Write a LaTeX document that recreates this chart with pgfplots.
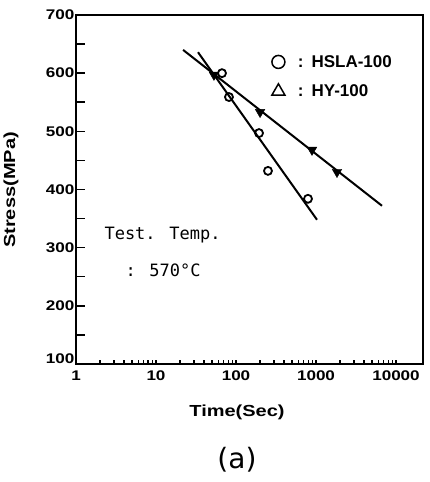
\documentclass[border=0pt]{standalone}
\usepackage{fontspec}
\setmainfont{Liberation Sans}
\newfontfamily\tickfont[FakeStretch=1.22]{Liberation Sans}
\newfontfamily\labfont[FakeStretch=1.25]{Liberation Sans}
\newfontfamily\monofont{DejaVu Sans Mono}
\newfontfamily\capfont{DejaVu Sans}
\usepackage{pgfplots}
\pgfplotsset{compat=1.18}
\begin{document}
\begin{tikzpicture}[x=1pt,y=1pt]
\useasboundingbox (0,0) rectangle (429,482);
\begin{axis}[
  at={(76pt,118pt)}, anchor=south west,
  scale only axis, width=347pt, height=349pt,
  xmode=log, xmin=1, xmax=21750, ymin=100, ymax=700,
  axis line style={line width=2.2pt},
  tick align=inside, tick pos=left,
  xtick={1,10,100,1000,10000},
  xticklabels={1,10,100,1000,10000},
  minor xtick={2,3,4,5,6,7,8,9,20,30,40,50,60,70,80,90,200,300,400,500,600,700,800,900,2000,3000,4000,5000,6000,7000,8000,9000},
  ytick={200,300,...,700},
  minor ytick={150,250,...,650},
  extra y ticks={100},
  extra y tick style={yticklabel style={yshift=5pt}},
  major tick length=9pt, minor tick length=9pt,
  x tick style={/pgfplots/major tick length=4pt,/pgfplots/minor tick length=4pt},
  every tick/.style={black, line width=1.5pt},
  every minor tick/.style={black, line width=1.5pt},
  /pgf/number format/assume math mode=true,
  ticklabel style={font=\tickfont\bfseries\fontsize{14}{14}\selectfont},
  yticklabel style={xshift=2pt},
  xticklabel style={yshift=-3pt},
  legend style={at={(rel axis cs:0.564,0.891)}, anchor=north west, draw=none, fill=none,
    font=\bfseries\fontsize{17}{17}\selectfont, row sep=12pt, inner sep=0pt},
  legend cell align=left,
]
\addlegendimage{only marks, mark=o, mark size=6.5pt, line width=1.5pt, black}
\addlegendentry{\hspace{11pt}:\hspace{8pt}HSLA-100}
\addlegendimage{only marks, mark=triangle, mark size=7.5pt, line width=1.5pt, black}
\addlegendentry{\hspace{11pt}:\hspace{8pt}HY-100}
% HSLA-100 data
\addplot[forget plot, only marks, mark=o, mark size=4pt, line width=1.8pt, black]
  coordinates {(66.8,600) (81.7,559) (194,497) (251,432) (794,384)};
% HSLA-100 fitted line
\addplot[forget plot, black, line width=2pt]
  coordinates {(33.5,636) (1029,348)};
% HY-100 data
\addplot[forget plot, only marks, mark=triangle*, mark size=5.5pt, mark options={rotate=180}, black]
  coordinates {(53,597) (200,533) (891,468) (1830,430)};
% HY-100 fitted line
\addplot[forget plot, black, line width=2pt]
  coordinates {(21.8,640) (6683,372)};
\end{axis}
\node[anchor=base west, font=\monofont\fontsize{17}{17}\selectfont] at (101,242) {Test. Temp.};
\node[anchor=base west, font=\monofont\fontsize{17}{17}\selectfont] at (122,205) {: 570°C};
\node[rotate=90, font=\labfont\bfseries\fontsize{16}{16}\selectfont] at (11,292) {Stress(MPa)};
\node[font=\labfont\bfseries\fontsize{16}{16}\selectfont] at (237,70) {Time(Sec)};
\node[font=\capfont\fontsize{28}{28}\selectfont] at (237,22) {(a)};
\end{tikzpicture}
\end{document}
